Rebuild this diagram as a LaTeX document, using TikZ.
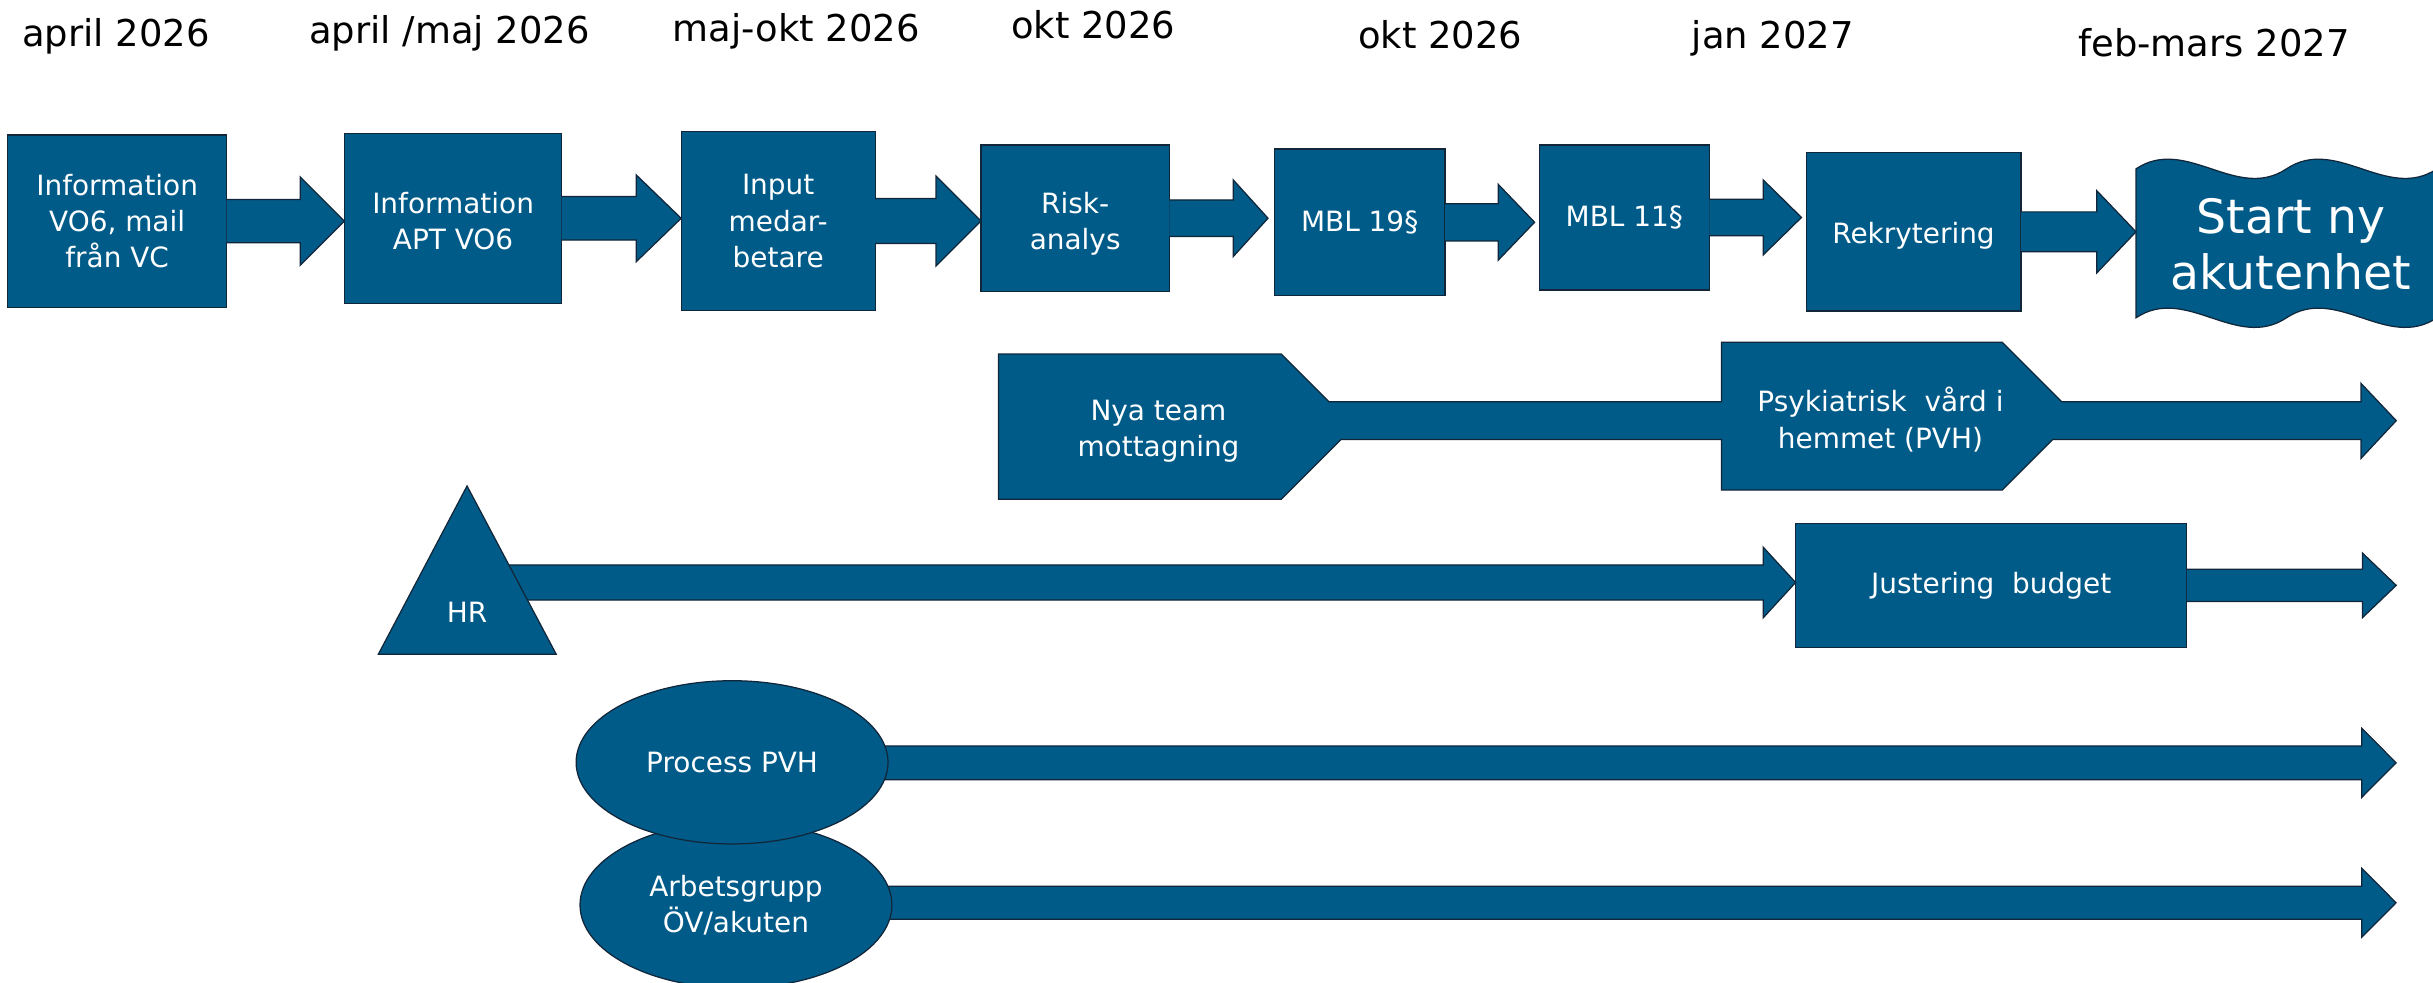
\documentclass[tikz,border=0pt]{standalone}
\usepackage{fontspec}
\setmainfont{DejaVu Sans}
\usetikzlibrary{calc,shapes.geometric}
\definecolor{tlblue}{RGB}{0,91,137}
\definecolor{tlline}{RGB}{18,38,58}
\newcommand\tlboxfont{\fontsize{18}{23.4}\selectfont}
\newcommand\tldatefont{\fontsize{23.8}{28}\selectfont}
\newcommand\tlbigfont{\fontsize{30.5}{36.6}\selectfont}
% block arrow: #1 start point, #2 tip point (x used), #3 shaft half, #4 head half, #5 head length
\newcommand\blockarr[5]{%
  \fill[tlblue] let \p1=(#1), \p2=(#2) in
    (\x1,\y1+#3) -- (\x2-#5,\y1+#3) -- (\x2-#5,\y1+#4) -- (\x2,\y1) -- (\x2-#5,\y1-#4) -- (\x2-#5,\y1-#3) -- (\x1,\y1-#3) -- cycle;
  \draw[outl] let \p1=(#1), \p2=(#2) in
    (\x1,\y1+#3) -- (\x2-#5,\y1+#3) -- (\x2-#5,\y1+#4) -- (\x2,\y1) -- (\x2-#5,\y1-#4) -- (\x2-#5,\y1-#3) -- (\x1,\y1-#3);
}
\tikzset{
  outl/.style={draw=tlline, line width=0.8, line join=miter},
  shp/.style={fill=tlblue, draw=tlline, line width=0.8, line join=miter},
  box/.style={rectangle, shp, text=white, inner sep=0, outer sep=0, align=center, font=\tlboxfont},
  ell/.style={ellipse, shp, text=white, inner sep=0, outer sep=0, align=center, font=\tlboxfont},
  txt/.style={text=white, inner sep=0, outer sep=0, align=center, font=\tlboxfont},
  date/.style={anchor=base west, inner sep=0, outer sep=0, font=\tldatefont, text=black},
}
\begin{document}
\begin{tikzpicture}[x=1pt,y=-1pt]
\fill[white] (0,0) rectangle (1568,633.5);
\useasboundingbox (0,0) rectangle (1568,633.5);

% dates
\node[date] (d1) at (14.4,30.1) {april 2026};
\node[date] (d2) at (199.3,27.9) {april /maj 2026};
\node[date] (d3) at (433.6,26.9) {maj-okt 2026};
\node[date] (d4) at (651.6,24.7) {okt 2026};
\node[date] (d5) at (875.4,31.1) {okt 2026};
\node[date] (d6) at (1090.4,31.1) {jan 2027};
\node[date] (d7) at (1339.5,36.5) {feb-mars 2027};

% top row boxes
\node[box, minimum width=141, minimum height=111] (b1) at (75.5,142.5) {Information\\VO6, mail\\från VC};
\node[box, minimum width=140, minimum height=109.4] (b2) at (292,140.7) {\rule{0pt}{17pt}Information\\APT VO6};
\node[box, minimum width=125, minimum height=115.3] (b3) at (501.5,142.45) {Input\\medar-\\betare};
\node[box, minimum width=121.3, minimum height=94.5] (b4) at (692.9,140.65) {\rule{0pt}{21pt}Risk-\\analys};
\node[box, minimum width=110.1, minimum height=94.5] (b5) at (876.25,143.25) {MBL 19§};
\node[box, minimum width=109.6, minimum height=93.5] (b6) at (1046.8,140.15) {MBL 11§};
\node[box, minimum width=138.4, minimum height=102] (b7) at (1233.2,149.4) {\rule{0pt}{19pt}Rekrytering};

% wave
\filldraw[shp] (1376.6,108.8) .. controls (1408.9,87.3) and (1441.3,130.3) .. (1473.6,108.8)
  .. controls (1505.9,87.3) and (1538.3,130.3) .. (1570.6,108.8) -- (1570.6,204.8)
  .. controls (1538.3,226.3) and (1505.9,183.3) .. (1473.6,204.8)
  .. controls (1441.3,226.3) and (1408.9,183.3) .. (1376.6,204.8) -- cycle;
\node[txt, font=\tlbigfont] (start) at (1476.4,157.4) {Start ny\\akutenhet};
\coordinate (wavew) at (1376.6,149.4);

% top row arrows
\blockarr{b1.east}{b2.west}{14}{28.5}{28.5}
\blockarr{b2.east}{b3.west}{14}{28}{29}
\blockarr{b3.east}{b4.west}{14.5}{29}{29}
\blockarr{b4.east}{$(b5.west)+(-4,0)$}{11.8}{24.7}{22.4}
\blockarr{b5.east}{$(b6.west)+(-3,0)$}{12}{24.5}{23.5}
\blockarr{b6.east}{$(b7.west)+(-3,0)$}{11.8}{24.2}{24.7}
\blockarr{b7.east}{wavew}{12.85}{26.5}{25.3}

% second row: Nya team -> PVH -> arrow
\filldraw[shp] (643.5,228.2) -- (825.7,228.2) -- (856.4,258.9) -- (1109.5,258.9) -- (1109.5,220.6)
  -- (1290.4,220.6) -- (1328.7,258.9) -- (1521.6,258.9) -- (1521.6,247.1) -- (1544.3,271.1)
  -- (1521.6,295.4) -- (1521.6,283.2) -- (1323,283.2) -- (1290.4,315.8) -- (1109.5,315.8)
  -- (1109.5,283.2) -- (864.3,283.2) -- (825.7,321.8) -- (643.5,321.8) -- cycle;
\node[txt] (nya) at (746.6,277.8) {Nya team\\mottagning};
\node[txt] (pvh) at (1211.9,270.5) {Psykiatrisk~ vård i\\hemmet (PVH)};

% third row: HR -> Justering budget -> arrow
\node[box, minimum width=252.1, minimum height=79.9] (just) at (1283.25,377.25) {Justering~ budget};
\coordinate (hrs) at (320,375.4);
\blockarr{hrs}{just.west}{11.3}{22.8}{20.9}
\filldraw[shp] (301,313.2) -- (358.5,421.7) -- (243.8,421.7) -- cycle;
\node[txt] (hr) at (301,394.7) {HR};
\coordinate (jend) at (1544.3,377.25);
\blockarr{just.east}{jend}{10.45}{20.85}{21.8}

% ellipses
\coordinate (ags) at (474.3,581.8);
\coordinate (age) at (1544.2,581.8);
\blockarr{ags}{age}{10.7}{22.2}{22.1}
\node[ell, minimum width=201, minimum height=107.2] (ag) at (474.3,583.2) {Arbetsgrupp\\ÖV/akuten};
\coordinate (pps) at (471.8,491.6);
\coordinate (ppe) at (1544.2,491.6);
\blockarr{pps}{ppe}{10.85}{22.25}{22.1}
\node[ell, minimum width=201, minimum height=105.2] (pp) at (471.8,491.3) {Process PVH};
\end{tikzpicture}
\end{document}
